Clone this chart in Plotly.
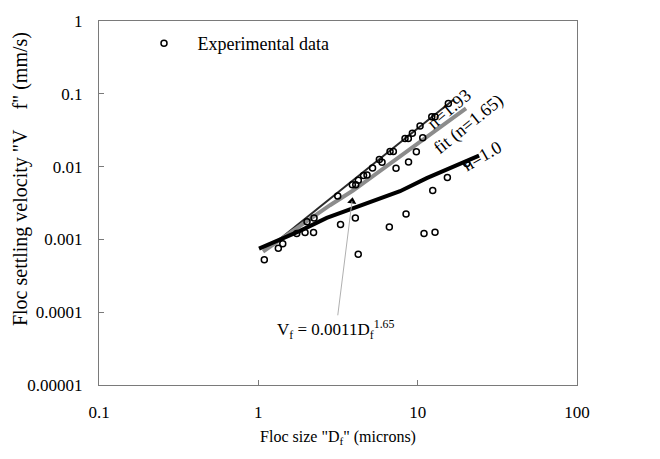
import plotly.graph_objects as go
import math

exp_D = [1.09, 1.335, 1.423, 1.742, 1.964, 2.221, 2.237, 2.021, 3.28, 3.15, 4.063, 4.236,
         3.89, 4.087, 4.243, 4.574, 4.81, 5.21, 5.746, 5.975, 6.64, 6.707, 7.036, 7.314,
         8.33, 8.738, 8.453, 8.764, 9.26, 9.81, 10.35, 10.76, 10.96, 12.26, 12.85, 12.43,
         12.85, 15.36, 15.58, 20.32]
exp_V = [0.000527, 0.000757, 0.000871, 0.001205, 0.001242, 0.001242, 0.001973, 0.001745,
         0.001604, 0.003934, 0.001973, 0.000623, 0.005645, 0.005645, 0.006486, 0.007574,
         0.007691, 0.009546, 0.01249, 0.01149, 0.001481, 0.01615, 0.01615, 0.009459,
         0.02436, 0.02436, 0.002234, 0.01156, 0.02877, 0.016, 0.03606, 0.02489, 0.001205,
         0.04837, 0.04837, 0.00469, 0.001253, 0.007075, 0.07339, 0.01104]

# n = 1.93 line
n193_D = [1.219, 16.91]
n193_V = [0.00083, 0.0844]

# fit (n = 1.65)
fit_D = [1.07, 1.827, 2.818, 3.93, 5.805, 8.578, 13.23, 20.12]
fit_V = [0.000679, 0.001542, 0.002951, 0.00469, 0.0087, 0.01615, 0.03288, 0.0629]

# n = 1.0 line
n10_D = [1.01, 1.368, 1.827, 2.688, 3.588, 5.024, 7.751, 11.4, 16.75, 24.28]
n10_V = [0.000746, 0.000979, 0.001309, 0.001973, 0.002474, 0.003207, 0.00459, 0.006945,
         0.009938, 0.01414]

# arrow target of equation label
arrow_D = [3.873]
arrow_V = [0.003338]

x_ticks = [0.1, 1, 10, 100]
x_ticktext = ["0.1", "1", "10", "100"]
y_ticks = [0.00001, 0.0001, 0.001, 0.01, 0.1, 1]
y_ticktext = ["0.00001", "0.0001", "0.001", "0.01", "0.1", "1"]

FONT = "Liberation Serif, Times New Roman, serif"

fig = go.Figure()
fig.add_trace(go.Scatter(x=n193_D, y=n193_V, mode="lines",
                         line=dict(color="#2a2a2a", width=2), showlegend=False,
                         hoverinfo="skip"))
fig.add_trace(go.Scatter(x=fit_D, y=fit_V, mode="lines",
                         line=dict(color="#8c8c8c", width=4), showlegend=False,
                         hoverinfo="skip"))
fig.add_trace(go.Scatter(x=n10_D, y=n10_V, mode="lines",
                         line=dict(color="#000000", width=4), showlegend=False,
                         hoverinfo="skip"))
fig.add_trace(go.Scatter(x=exp_D, y=exp_V, mode="markers",
                         name="\u00a0\u00a0\u00a0Experimental data",
                         marker=dict(symbol="circle-open", size=6, color="#000000",
                                     line=dict(width=1.5, color="#000000"))))
fig.add_trace(go.Scatter(x=arrow_D, y=arrow_V, mode="markers",
                         marker=dict(symbol="triangle-up", size=8, color="#000000",
                                     angle=8),
                         showlegend=False, hoverinfo="skip"))

fig.add_annotation(x=math.log10(arrow_D[0]), y=math.log10(arrow_V[0]), xref="x", yref="y",
                   text="V<sub>f</sub> = 0.0011D<sub>f</sub><sup>1.65</sup>",
                   showarrow=True, arrowhead=0, arrowwidth=1, arrowcolor="#b0b0b0",
                   ax=-16, ay=128, font=dict(family=FONT, size=17, color="#000"))

# label placement helpers (pixel position -> paper coords)
def px(xp):
    return (xp - 99) / 478.0

def py(yp):
    return (385 - yp) / 373.0

fig.add_annotation(x=px(478), y=py(75), xref="paper", yref="paper", text="n=1.93",
                   showarrow=False, textangle=-40, font=dict(family=FONT, size=18, color="#000"))
fig.add_annotation(x=px(510), y=py(80), xref="paper", yref="paper", text="fit (n=1.65)",
                   showarrow=False, textangle=-39, font=dict(family=FONT, size=18, color="#000"))
fig.add_annotation(x=px(508), y=py(150), xref="paper", yref="paper", text="n=1.0",
                   showarrow=False, textangle=-30, font=dict(family=FONT, size=18, color="#000"))

# y-axis title (rotated text, slightly above centre as in the original)
fig.add_annotation(x=px(20), y=py(174), xref="paper", yref="paper",
                   xanchor="center", yanchor="middle",
                   text='Floc settling velocity "V\u00a0\u00a0\u00a0\u00a0f" (mm/s)',
                   showarrow=False, textangle=-90,
                   font=dict(family=FONT, size=20, color="#000"))

axis_common = dict(type="log", showgrid=False, zeroline=False, showline=True, mirror=True,
                   linecolor="#7a7a7a", linewidth=1, ticks="inside", ticklen=5,
                   tickcolor="#7a7a7a", tickfont=dict(family=FONT, size=17, color="#000"))

fig.update_xaxes(range=[-1, 2], tickvals=x_ticks, ticktext=x_ticktext,
                 title=dict(text='Floc size "D<sub>f</sub>" (microns)',
                            font=dict(family=FONT, size=16, color="#000"), standoff=9),
                 ticklabelstandoff=12, **axis_common)
fig.update_yaxes(range=[-5, 0], tickvals=y_ticks, ticktext=y_ticktext,
                 ticklabelstandoff=12, **axis_common)

fig.update_layout(width=660, height=459, margin=dict(l=99, r=83, t=12, b=74),
                  paper_bgcolor="white", plot_bgcolor="white",
                  font=dict(family=FONT, color="#000"),
                  legend=dict(x=px(144), y=py(35), xanchor="left", yanchor="middle",
                              bgcolor="rgba(0,0,0,0)", borderwidth=0,
                              font=dict(family=FONT, size=18, color="#000")),
                  showlegend=True)

post = ("document.body.style.margin='0';"
        "var d=document.getElementById('{plot_id}');"
        "d.style.position='absolute';d.style.left='0px';d.style.top='0px';")

fig.write_html("out.html", post_script=post, config={"displayModeBar": False})
